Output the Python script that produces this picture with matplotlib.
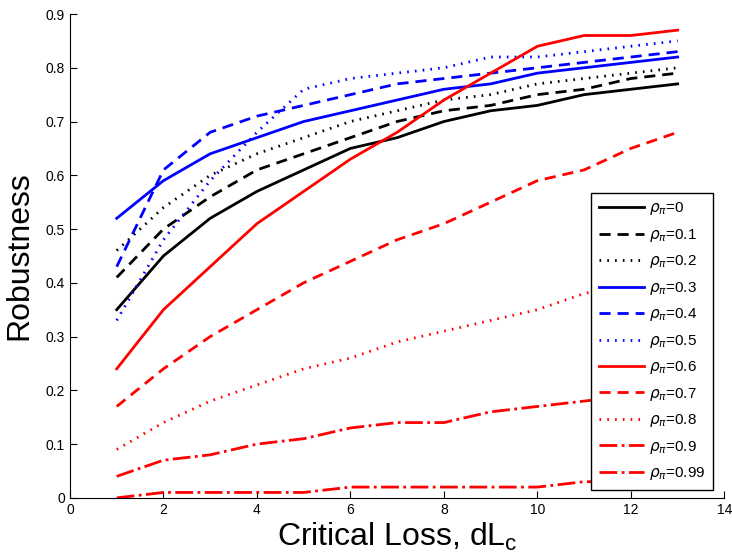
import numpy as np
import matplotlib
matplotlib.use('Agg')
import matplotlib.pyplot as plt

plt.rcParams['font.family'] = ['Liberation Sans', 'DejaVu Sans']
plt.rcParams['mathtext.fontset'] = 'dejavusans'

# critical loss values
x = [1, 2, 3, 4, 5, 6, 7, 8, 9, 10, 11, 12, 13]

r00 = [0.35, 0.45, 0.52, 0.57, 0.61, 0.65, 0.67, 0.70, 0.72, 0.73, 0.75, 0.76, 0.77]
r01 = [0.41, 0.50, 0.56, 0.61, 0.64, 0.67, 0.70, 0.72, 0.73, 0.75, 0.76, 0.78, 0.79]
r02 = [0.46, 0.54, 0.60, 0.64, 0.67, 0.70, 0.72, 0.74, 0.75, 0.77, 0.78, 0.79, 0.80]
r03 = [0.52, 0.59, 0.64, 0.67, 0.70, 0.72, 0.74, 0.76, 0.77, 0.79, 0.80, 0.81, 0.82]
r04 = [0.43, 0.61, 0.68, 0.71, 0.73, 0.75, 0.77, 0.78, 0.79, 0.80, 0.81, 0.82, 0.83]
r05 = [0.33, 0.48, 0.59, 0.68, 0.76, 0.78, 0.79, 0.80, 0.82, 0.82, 0.83, 0.84, 0.85]
r06 = [0.24, 0.35, 0.43, 0.51, 0.57, 0.63, 0.68, 0.74, 0.79, 0.84, 0.86, 0.86, 0.87]
r07 = [0.17, 0.24, 0.30, 0.35, 0.40, 0.44, 0.48, 0.51, 0.55, 0.59, 0.61, 0.65, 0.68]
r08 = [0.09, 0.14, 0.18, 0.21, 0.24, 0.26, 0.29, 0.31, 0.33, 0.35, 0.38, 0.40, 0.42]
r09 = [0.04, 0.07, 0.08, 0.10, 0.11, 0.13, 0.14, 0.14, 0.16, 0.17, 0.18, 0.19, 0.20]
r099 = [0.00, 0.01, 0.01, 0.01, 0.01, 0.02, 0.02, 0.02, 0.02, 0.02, 0.03, 0.03, 0.03]

labels = ['0', '0.1', '0.2', '0.3', '0.4', '0.5', '0.6', '0.7', '0.8', '0.9', '0.99']
series = [r00, r01, r02, r03, r04, r05, r06, r07, r08, r09, r099]
colors = ['k', 'k', 'k', 'b', 'b', 'b', 'r', 'r', 'r', 'r', 'r']
dash = (0, (4, 2.5))
dot = (0, (0.6, 2.2))
styles = ['-', dash, dot, '-', dash, dot, '-', dash, dot, '-.', '-.']

fig = plt.figure(figsize=(7.32, 5.6), dpi=100)
ax = fig.add_axes([0.0956, 0.111, 0.894, 0.864])

for y, lab, c, ls in zip(series, labels, colors, styles):
    ax.plot(x, y, color=c, linestyle=ls, linewidth=2, label=r'$\rho_\pi$=' + lab)

ax.set_xlim(0, 14)
ax.set_ylim(0, 0.9)
ax.set_xticks(range(0, 15, 2))
ax.set_yticks(np.arange(0, 0.91, 0.1))
ax.set_yticklabels(['0', '0.1', '0.2', '0.3', '0.4', '0.5', '0.6', '0.7', '0.8', '0.9'])
ax.tick_params(direction='in', labelsize=10, length=5)
ax.spines['top'].set_visible(False)
ax.spines['right'].set_visible(False)

ax.set_xlabel(r'Critical Loss, dL$_\mathregular{c}$', fontsize=23, labelpad=3)
ax.set_ylabel('Robustness', fontsize=23, labelpad=8)

leg = ax.legend(loc='lower right', bbox_to_anchor=(0.982, 0.0165), fontsize=11,
                fancybox=False, framealpha=1, edgecolor='k', handlelength=2.95,
                handletextpad=0.3, labelspacing=0.62, borderpad=0.5,
                borderaxespad=0)
leg.get_frame().set_linewidth(1.0)

fig.savefig('out.png', dpi=100)
